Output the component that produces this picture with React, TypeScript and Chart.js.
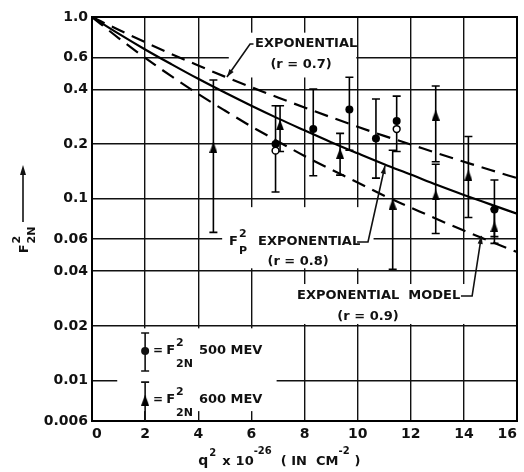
import React, { useEffect, useRef } from "react";
import { Chart, registerables } from "chart.js";

Chart.register(...registerables);

// ---- data ----
const curveX = [0, 1, 2, 3, 4, 5, 6, 7, 8, 9, 10, 11, 12, 13, 14, 15, 16];
// exponential model r = 0.7 (upper dashed)
const expR07 = [1, 0.85, 0.727, 0.625, 0.541, 0.47, 0.411, 0.361, 0.318, 0.281, 0.249, 0.222, 0.199, 0.178, 0.16, 0.144, 0.13];
// F_P^2 exponential r = 0.8 (solid)
const expR08 = [1, 0.81, 0.663, 0.549, 0.457, 0.384, 0.325, 0.277, 0.238, 0.205, 0.178, 0.155, 0.136, 0.119, 0.105, 0.0932, 0.0828];
// exponential model r = 0.9 (lower dashed)
const expR09 = [1, 0.766, 0.596, 0.471, 0.377, 0.306, 0.25, 0.207, 0.172, 0.145, 0.123, 0.104, 0.0896, 0.0772, 0.0669, 0.0583, 0.051];

// F_2N^2 at 500 MeV (filled circles)
const mev500X = [6.91, 8.33, 9.69, 10.69, 11.47, 15.15];
const mev500Y = [0.2, 0.242, 0.31, 0.215, 0.268, 0.0875];
const mev500Hi = [0.325, 0.402, 0.466, 0.354, 0.367, 0.127];
const mev500Lo = [0.109, 0.134, 0.185, 0.13, 0.182, 0.062];

// open circles
const openX = [6.91, 11.47];
const openY = [0.184, 0.242];

// F_2N^2 at 600 MeV (triangles)
const mev600X = [4.57, 7.08, 9.34, 11.32, 12.94, 12.94, 14.17, 15.15];
const mev600Y = [0.192, 0.255, 0.178, 0.0936, 0.289, 0.105, 0.135, 0.0703];
const mev600Hi = [0.45, 0.325, 0.229, 0.185, 0.417, 0.155, 0.22, 0.088];
const mev600Lo = [0.0654, 0.182, 0.135, 0.041, 0.16, 0.0645, 0.079, 0.0569];

const xTicks = [0, 2, 4, 6, 8, 10, 12, 14, 16];
const yTicks = [0.006, 0.01, 0.02, 0.04, 0.06, 0.1, 0.2, 0.4, 0.6, 1.0];
const yTickLabels = ["0.006", "0.01", "0.02", "0.04", "0.06", "0.1", "0.2", "0.4", "0.6", "1.0"];

// ---- styling / annotation layout (data coordinates) ----
const FONT = '"DejaVu Sans", "Liberation Sans", sans-serif';
const fnt = (s: number, w = "bold") => `${w} ${s}px ${FONT}`;
// white label boxes: [x0, x1, yTop, yBottom]
const maskBoxes = [
  [5.15, 9.95, 0.82, 0.465],
  [4.9, 10.6, 0.09, 0.0415],
  [7.5, 15.85, 0.034, 0.0205],
  [0.95, 6.95, 0.0194, 0.0068],
];

type Part = { t: string; s: number; dy?: number; gap?: number; back?: boolean };

function drawParts(ctx: CanvasRenderingContext2D, x: number, y: number, parts: Part[], align = "left", baseline: CanvasTextBaseline = "middle") {
  ctx.textBaseline = baseline;
  ctx.textAlign = "left";
  const ws: number[] = [];
  let total = 0;
  for (const p of parts) {
    ctx.font = fnt(p.s);
    const w = ctx.measureText(p.t).width;
    ws.push(w);
    total += (p.back ? 0 : w) + (p.gap ?? 0);
  }
  let cx = align === "center" ? x - total / 2 : x;
  parts.forEach((p, i) => {
    ctx.font = fnt(p.s);
    ctx.fillText(p.t, cx, y + (p.dy ?? 0));
    cx += (p.back ? 0 : ws[i]) + (p.gap ?? 0);
  });
}

function arrowHead(ctx: CanvasRenderingContext2D, fx: number, fy: number, tx: number, ty: number, len = 8, half = 2.6) {
  const a = Math.atan2(ty - fy, tx - fx);
  ctx.beginPath();
  ctx.moveTo(tx, ty);
  ctx.lineTo(tx - len * Math.cos(a) + half * Math.sin(a), ty - len * Math.sin(a) - half * Math.cos(a));
  ctx.lineTo(tx - len * Math.cos(a) - half * Math.sin(a), ty - len * Math.sin(a) + half * Math.cos(a));
  ctx.closePath();
  ctx.fill();
}

function makeTriangle(w: number, h: number) {
  const c = document.createElement("canvas");
  c.width = w;
  c.height = h;
  const g = c.getContext("2d")!;
  g.fillStyle = "#000";
  g.beginPath();
  g.moveTo(w / 2, 0);
  g.lineTo(w, h);
  g.lineTo(0, h);
  g.closePath();
  g.fill();
  return c;
}

export default function App() {
  const ref = useRef<HTMLCanvasElement>(null);

  useEffect(() => {
    const canvas = ref.current;
    if (!canvas) return;
    const tri = makeTriangle(8, 11);

    const errorBars = (ctx: CanvasRenderingContext2D, X: (v: number) => number, Y: (v: number) => number, xs: number[], lo: number[], hi: number[]) => {
      xs.forEach((xv, i) => {
        const px = X(xv);
        const y0 = Y(hi[i]);
        const y1 = Y(lo[i]);
        ctx.beginPath();
        ctx.moveTo(px, y0);
        ctx.lineTo(px, y1);
        ctx.moveTo(px - 4, y0);
        ctx.lineTo(px + 4, y0);
        ctx.moveTo(px - 4, y1);
        ctx.lineTo(px + 4, y1);
        ctx.stroke();
      });
    };

    const annot = {
      id: "annot",
      beforeDatasetsDraw(chart: any) {
        const { ctx, chartArea: ca } = chart;
        const xs = chart.scales.x, ys = chart.scales.y;
        const X = (v: number) => xs.getPixelForValue(v);
        const Y = (v: number) => ys.getPixelForValue(v);
        ctx.save();
        ctx.fillStyle = "#fff";
        for (const b of maskBoxes) {
          const x0 = X(b[0]), x1 = X(b[1]), y0 = Y(b[2]), y1 = Y(b[3]);
          ctx.fillRect(x0, y0, x1 - x0, y1 - y0);
        }
        ctx.strokeStyle = "#000";
        ctx.lineWidth = 2;
        ctx.strokeRect(ca.left, ca.top, ca.right - ca.left, ca.bottom - ca.top);
        ctx.lineWidth = 1.6;
        errorBars(ctx, X, Y, mev500X, mev500Lo, mev500Hi);
        errorBars(ctx, X, Y, mev600X, mev600Lo, mev600Hi);
        ctx.restore();
      },
      afterDatasetsDraw(chart: any) {
        const { ctx, chartArea: ca } = chart;
        const xs = chart.scales.x, ys = chart.scales.y;
        const X = (v: number) => xs.getPixelForValue(v);
        const Y = (v: number) => ys.getPixelForValue(v);
        ctx.save();
        ctx.fillStyle = "#111";
        ctx.strokeStyle = "#111";
        ctx.lineWidth = 1.6;

        // r = 0.7 label
        drawParts(ctx, X(6.14), Y(0.71), [{ t: "EXPONENTIAL", s: 13 }]);
        drawParts(ctx, X(7.87), Y(0.544), [{ t: "(r = 0.7)", s: 13 }], "center");
        ctx.beginPath();
        ctx.moveTo(X(6.08), Y(0.71));
        ctx.lineTo(X(5.95), Y(0.71));
        ctx.lineTo(X(5.08), Y(0.468));
        ctx.stroke();
        arrowHead(ctx, X(5.95), Y(0.71), X(5.08), Y(0.468));

        // F_P^2 r = 0.8 label
        drawParts(ctx, X(5.16), Y(0.0579), [
          { t: "F", s: 13, gap: 1 },
          { t: "2", s: 11, dy: -8, back: true },
          { t: "P", s: 11, dy: 9, gap: 11 },
          { t: "EXPONENTIAL", s: 13 },
        ]);
        drawParts(ctx, X(7.76), Y(0.0449), [{ t: "(r = 0.8)", s: 13 }], "center");
        ctx.beginPath();
        ctx.moveTo(X(9.98), Y(0.0579));
        ctx.lineTo(X(10.39), Y(0.0579));
        ctx.lineTo(X(11.03), Y(0.152));
        ctx.stroke();
        arrowHead(ctx, X(10.39), Y(0.0579), X(11.03), Y(0.152));

        // r = 0.9 label
        drawParts(ctx, X(7.72), Y(0.0292), [{ t: "EXPONENTIAL  MODEL", s: 13 }]);
        drawParts(ctx, X(10.39), Y(0.0224), [{ t: "(r = 0.9)", s: 13 }], "center");
        ctx.beginPath();
        ctx.moveTo(X(13.89), Y(0.0292));
        ctx.lineTo(X(14.31), Y(0.0292));
        ctx.lineTo(X(14.66), Y(0.0625));
        ctx.stroke();
        arrowHead(ctx, X(14.31), Y(0.0292), X(14.66), Y(0.0625));

        // legend
        const lx = X(2);
        ctx.beginPath();
        ctx.moveTo(lx, Y(0.0183));
        ctx.lineTo(lx, Y(0.0113));
        ctx.moveTo(lx - 4, Y(0.0183));
        ctx.lineTo(lx + 4, Y(0.0183));
        ctx.moveTo(lx - 4, Y(0.0113));
        ctx.lineTo(lx + 4, Y(0.0113));
        ctx.moveTo(lx, Y(0.00982));
        ctx.lineTo(lx, Y(0.006));
        ctx.moveTo(lx - 4, Y(0.00982));
        ctx.lineTo(lx + 4, Y(0.00982));
        ctx.stroke();
        ctx.beginPath();
        ctx.arc(lx, Y(0.01455), 4, 0, Math.PI * 2);
        ctx.fill();
        ctx.drawImage(tri, lx - 4, Y(0.00782) - 5.5, 8, 11);
        const legendParts = (txt: string): Part[] => [
          { t: "=", s: 12, gap: 3 },
          { t: "F", s: 13, gap: 1 },
          { t: "2", s: 11, dy: -8, back: true },
          { t: "2N", s: 11, dy: 13, gap: 6 },
          { t: txt, s: 13 },
        ];
        drawParts(ctx, X(2.3), Y(0.01455), legendParts("500 MEV"));
        drawParts(ctx, X(2.3), Y(0.00782), legendParts("600 MEV"));

        // y axis title (rotated) with arrow
        const mid = (ca.top + ca.bottom) / 2;
        const tx = ca.left - 69;
        ctx.beginPath();
        ctx.moveTo(tx, mid + 3);
        ctx.lineTo(tx, mid - 50);
        ctx.stroke();
        arrowHead(ctx, tx, mid + 3, tx, mid - 54, 10, 3);
        ctx.save();
        ctx.translate(tx + 2, mid + 21);
        ctx.rotate(-Math.PI / 2);
        drawParts(ctx, 0, 0, [
          { t: "F", s: 13, gap: 1 },
          { t: "2", s: 11, dy: -8, back: true },
          { t: "2N", s: 11, dy: 7 },
        ], "center");
        ctx.restore();

        // x axis title
        drawParts(ctx, X(4), ca.bottom + 44, [
          { t: "q", s: 14, gap: 1 },
          { t: "2", s: 10, dy: -9, gap: 6 },
          { t: "x", s: 13, gap: 5 },
          { t: "10", s: 13 },
          { t: "-26", s: 10, dy: -11, gap: 9 },
          { t: "( IN  CM", s: 13 },
          { t: "-2", s: 10, dy: -11, gap: 5 },
          { t: ")", s: 13 },
        ], "left", "alphabetic");
        ctx.restore();
      },
    };

    const chart = new Chart(canvas, {
      type: "line",
      data: {
        datasets: [
          {
            label: "r=0.7",
            data: curveX.map((x, i) => ({ x, y: expR07[i] })),
            borderColor: "#000",
            borderWidth: 2.2,
            borderDash: [14, 8],
            pointRadius: 0,
            fill: false,
            cubicInterpolationMode: "monotone",
          },
          {
            label: "r=0.8",
            data: curveX.map((x, i) => ({ x, y: expR08[i] })),
            borderColor: "#000",
            borderWidth: 2.2,
            pointRadius: 0,
            fill: false,
            cubicInterpolationMode: "monotone",
          },
          {
            label: "r=0.9",
            data: curveX.map((x, i) => ({ x, y: expR09[i] })),
            borderColor: "#000",
            borderWidth: 2.2,
            borderDash: [14, 8],
            pointRadius: 0,
            fill: false,
            cubicInterpolationMode: "monotone",
          },
          {
            label: "600 MeV",
            data: mev600X.map((x, i) => ({ x, y: mev600Y[i] })),
            showLine: false,
            pointStyle: tri as any,
            pointRadius: 5,
            backgroundColor: "#000",
            borderColor: "#000",
          },
          {
            label: "500 MeV",
            data: mev500X.map((x, i) => ({ x, y: mev500Y[i] })),
            showLine: false,
            pointStyle: "circle",
            pointRadius: 4,
            borderWidth: 0,
            backgroundColor: "#000",
            borderColor: "#000",
          },
          {
            label: "open",
            data: openX.map((x, i) => ({ x, y: openY[i] })),
            showLine: false,
            pointStyle: "circle",
            pointRadius: 3.4,
            borderWidth: 1.5,
            backgroundColor: "#fff",
            borderColor: "#000",
          },
        ],
      },
      options: {
        responsive: false,
        animation: false,
        events: [],
        layout: { padding: { top: 17, right: 7, left: 0, bottom: 0 } },
        plugins: { legend: { display: false }, tooltip: { enabled: false } },
        scales: {
          x: {
            type: "linear",
            min: 0,
            max: 16,
            afterBuildTicks: (s: any) => {
              s.ticks = xTicks.map((v) => ({ value: v }));
            },
            afterFit: (s: any) => {
              s.height = 51;
              s.paddingRight = 7;
              s.paddingLeft = 0;
            },
            grid: { color: "#111", lineWidth: 1.4, drawTicks: false },
            border: { color: "#000", width: 2 },
            ticks: {
              color: "#111",
              font: { family: FONT, size: 14, weight: "bold" },
              padding: 5,
              align: "inner",
              maxRotation: 0,
              autoSkip: false,
              callback: (v: any) => String(v),
            },
          },
          y: {
            type: "logarithmic",
            min: 0.006,
            max: 1,
            afterBuildTicks: (s: any) => {
              s.ticks = yTicks.map((v) => ({ value: v }));
            },
            afterFit: (s: any) => {
              s.width = 92;
            },
            grid: { color: "#111", lineWidth: 1.4, drawTicks: false },
            border: { color: "#000", width: 2 },
            ticks: {
              color: "#111",
              font: { family: FONT, size: 14, weight: "bold" },
              padding: 4,
              autoSkip: false,
              callback: (v: any) => {
                const i = yTicks.indexOf(v);
                return i >= 0 ? yTickLabels[i] : "";
              },
            },
          },
        },
      },
      plugins: [annot],
    } as any);

    return () => chart.destroy();
  }, []);

  return (
    <div style={{ position: "fixed", left: 0, top: 0, width: 524, height: 472, background: "#fff" }}>
      <canvas ref={ref} width={524} height={472} style={{ width: 524, height: 472, display: "block" }} />
    </div>
  );
}
